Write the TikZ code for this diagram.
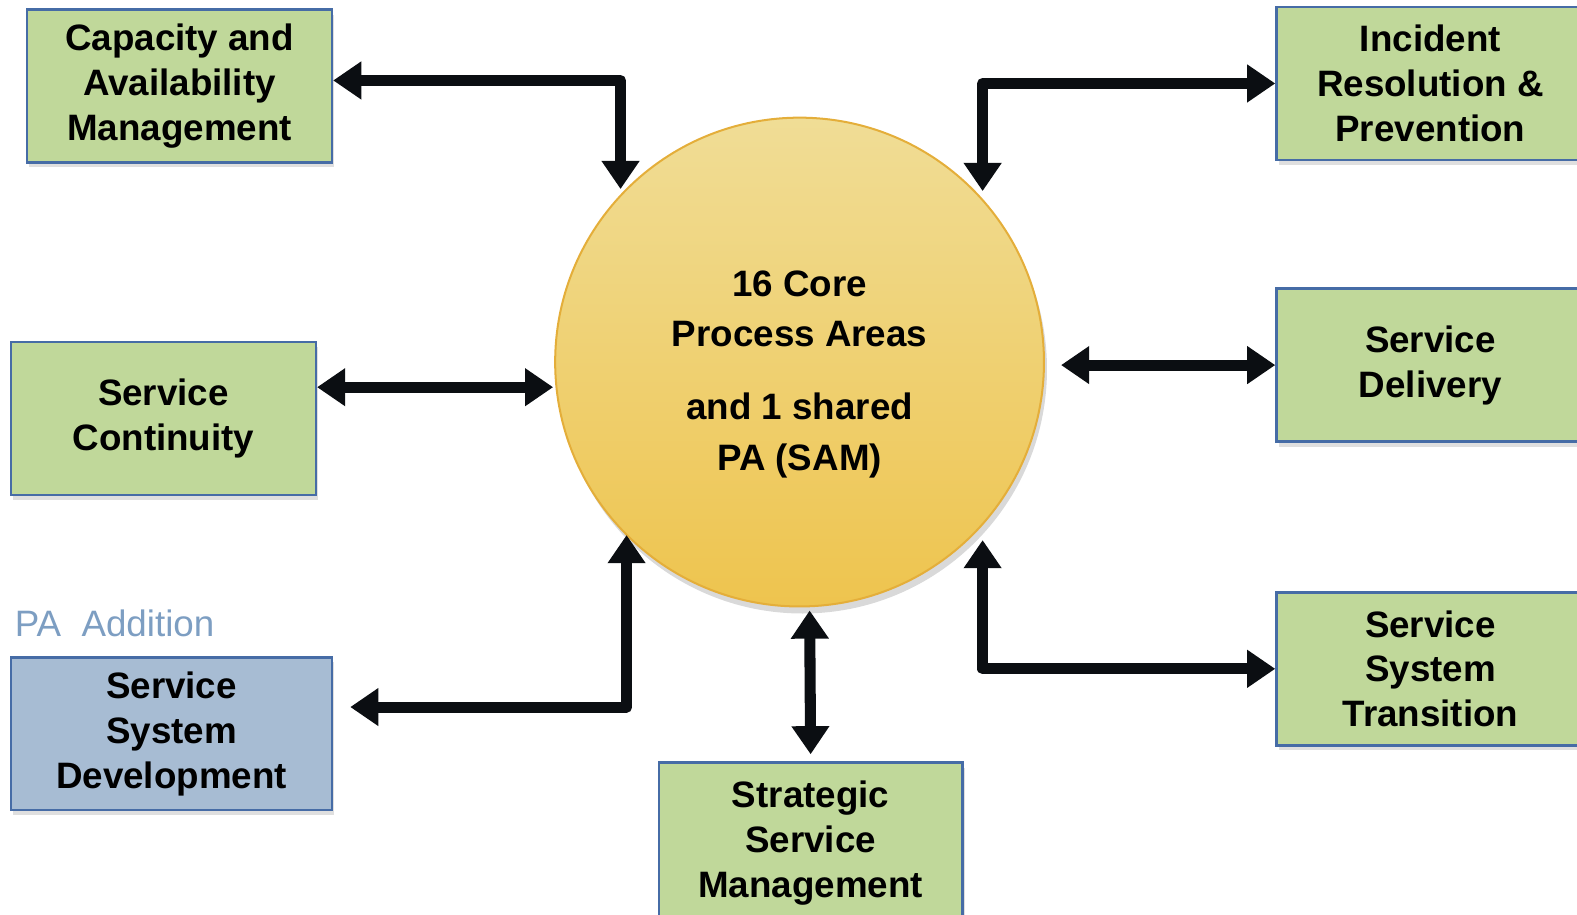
\documentclass[tikz,border=0pt]{standalone}
\usepackage{fontspec}
\setmainfont{Liberation Sans}
\usetikzlibrary{arrows.meta,shadows}

\definecolor{boxgreen}{RGB}{192,216,154}
\definecolor{boxblue}{RGB}{167,188,211}
\definecolor{boxline}{RGB}{70,108,166}
\definecolor{coretop}{RGB}{240,221,150}
\definecolor{corebot}{RGB}{238,196,78}
\definecolor{coreline}{RGB}{228,174,58}
\definecolor{addtext}{RGB}{125,158,194}
\definecolor{arrowink}{RGB}{11,14,18}

\tikzset{
  pabox/.style={draw=boxline, line width=0.025cm, fill=boxgreen,
    minimum width=3.03cm, minimum height=1.52cm, align=center,
    font=\fontsize{10.4pt}{12.7pt}\selectfont\bfseries,
    drop shadow={shadow xshift=0.02cm, shadow yshift=-0.05cm, opacity=0.25}},
  core/.style={circle, draw=coreline, line width=0.02cm,
    top color=coretop, bottom color=corebot, minimum size=4.86cm, inner sep=0pt,
    drop shadow={shadow xshift=0.03cm, shadow yshift=-0.07cm, opacity=0.3}},
  link/.style={draw=arrowink, line width=0.11cm, line join=round,
    >={Triangle[length=0.28cm,width=0.36cm]}, <->}
}

\begin{document}
\begin{tikzpicture}
    \useasboundingbox (0,0.05) rectangle (15.68,9.14);
    \clip (0,0.05) rectangle (15.68,9.14);

    % the core circle
    \node[core] (core) at (7.95,5.54) {};
    \node[font=\fontsize{10.4pt}{14.2pt}\selectfont\bfseries, align=center]
      (coretext) at (7.95,5.42) {16 Core\\Process Areas\\[0.23cm]and 1 shared\\PA (SAM)};

    % left boxes
    \node[pabox] (cam) at (1.785,8.285) {Capacity and\\Availability\\Management};
    \node[pabox] (con) at (1.625,4.98) {Service\\Continuity};
    \node[pabox, fill=boxblue, minimum width=3.19cm] (ssd) at (1.705,1.845)
      {Service\\System\\Development};
    \node[anchor=west, inner sep=0pt, text=addtext,
      font=\fontsize{10.4pt}{12.7pt}\selectfont] (addnote) at (0.14,2.94) {PA\ \ Addition};

    % right boxes
    \node[pabox, anchor=west, minimum width=3.06cm] (irp) at (12.68,8.31)
      {Incident\\Resolution \&\\Prevention};
    \node[pabox, anchor=west, minimum width=3.06cm] (del) at (12.68,5.51)
      {Service\\Delivery};
    \node[pabox, anchor=west, minimum width=3.06cm] (sst) at (12.68,2.49)
      {Service\\System\\Transition};

    % bottom box
    \node[pabox, anchor=north, minimum width=3.02cm, minimum height=1.6cm] (ssm) at (8.06,1.57)
      {Strategic\\Service\\Management};

    % arrow ends at the circle
    \coordinate (camin) at (6.17,7.26);
    \coordinate (irpin) at (9.77,7.24);
    \coordinate (conin) at (5.50,5.29);
    \coordinate (delin) at (10.55,5.51);
    \coordinate (sstin) at (9.77,3.77);
    \coordinate (ssmin) at (8.05,3.07);
    \coordinate (ssdin) at (6.23,3.82);

    % draw arrows
    \draw[link] ([yshift=0.055cm]cam.east) -| (camin);
    \draw[link] (irp.west) -| (irpin);
    \draw[link] (con.east |- conin) -- (conin);
    \draw[link] (delin) -- (del.west);
    \draw[link] (sst.west) -| (sstin);
    \draw[link] ([yshift=0.07cm]ssm.north) -- (ssmin);
    \draw[link] ([xshift=0.17cm,yshift=0.265cm]ssd.east) -| (ssdin);
\end{tikzpicture}
\end{document}
